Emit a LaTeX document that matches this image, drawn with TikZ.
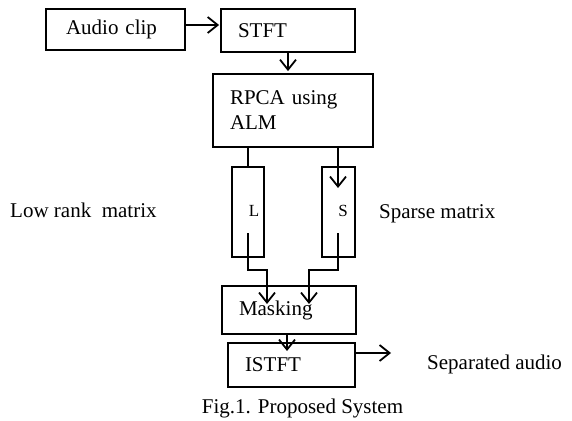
\documentclass[tikz,border=0pt]{standalone}
\usepackage{fontspec}
\setmainfont{Liberation Serif}
\usetikzlibrary{arrows.meta,calc}
\newcommand\fsmain{\fontsize{21}{25}\selectfont}
\newcommand\fssmall{\fontsize{17}{20}\selectfont}
\tikzset{
  box/.style={draw, line width=1.8pt, rectangle, align=left, inner xsep=17pt, inner ysep=0pt, font=\fsmain},
  thinbox/.style={draw, line width=1.8pt, rectangle, inner sep=0pt},
  lab/.style={inner sep=0pt, font=\fsmain},
  slab/.style={inner sep=0pt, font=\fssmall},
  conn/.style={line width=1.8pt},
  arr/.style={line width=1.8pt, -{Straight Barb[length=10pt,width=16pt,line width=1.8pt]}}
}
\begin{document}
\begin{tikzpicture}[x=1pt,y=-1pt]
\useasboundingbox (0,0) rectangle (572,420);
% boxes
\node[box, inner xsep=20pt, text width=99pt, minimum height=41pt] (audio) at (115.5,29.5) {Audio clip};
\node[box, text width=100pt, minimum height=43pt] (stft) at (288,30.5) {STFT};
\node[box, text width=126pt, minimum height=73pt] (rpca) at (293,110.5) {RPCA using\\ALM};
\node[thinbox, minimum width=32pt, minimum height=90pt] (lbox) at (248,212) {};
\node[thinbox, minimum width=33pt, minimum height=90pt] (sbox) at (338.5,212) {};
\node[slab] (ltext) at (254,211) {L};
\node[slab] (stext) at (343,211) {S};
\node[box, text width=100pt, minimum height=48pt] (mask) at (289,310) {Masking};
\node[box, text width=93pt, minimum height=44pt] (istft) at (291.5,365) {ISTFT};
% outside labels
\node[lab, anchor=west] (lowrank) at (10,210) {Low rank\ \ matrix};
\node[lab, anchor=west] (sparse) at (379,214) {Sparse matrix};
\node[lab, anchor=west] (sep) at (427,364) {Separated audio};
\node[lab, anchor=base] (cap) at (302.5,413) {Fig.1. Proposed System};
% helper coordinates
\coordinate (r1) at (0,25);
\coordinate (stip) at (338,188);
\coordinate (lin) at (248,233);
\coordinate (lbend) at (267,270);
\coordinate (ltip) at (267,304);
\coordinate (sin) at (338,233);
\coordinate (sbend) at (309,270);
\coordinate (stip2) at (309,304);
\coordinate (mtip) at (287,351);
\coordinate (r2) at (0,353);
\coordinate (otip) at (391,353);
% connectors
\draw[arr] (audio.east |- r1) -- ($(stft.west |- r1)+(-1,0)$);
\draw[arr] (stft.south) -- ($(stft.south |- rpca.north)+(0,-2)$);
\draw[conn] (rpca.south -| lbox.north) -- (lbox.north);
\draw[arr] (rpca.south -| stip) -- (stip);
\draw[arr] (lin) -- (lin |- lbend) -- (lbend) -- (ltip);
\draw[arr] (sin) -- (sin |- sbend) -- (sbend) -- (stip2);
\draw[arr] (mask.south -| mtip) -- (mtip);
\draw[arr] (istft.east |- r2) -- (otip);
\end{tikzpicture}
\end{document}
